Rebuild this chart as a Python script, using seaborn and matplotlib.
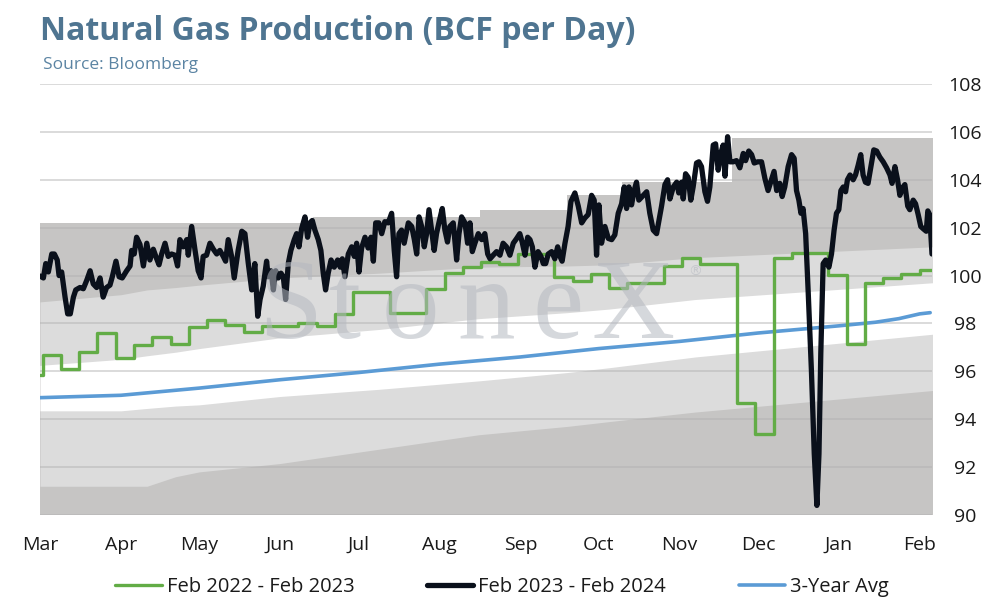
import numpy as np
import pandas as pd
import matplotlib
matplotlib.use('Agg')
import matplotlib.pyplot as plt
import matplotlib.dates as mdates
import seaborn as sns

# ---- data ----
start = pd.Timestamp('2023-03-01')
end = start + pd.Timedelta(days=341.7)

# Feb 2023 - Feb 2024 (days since 1 Mar 2023, BCF/d)
black_days = [0.0, 1.3, 2.2, 3.2, 4.5, 5.5, 6.6, 7.3, 8.3, 9.6, 10.6, 11.6, 12.8, 13.7, 15.3, 16.6,
              17.9, 19.2, 20.4, 21.7, 23.0, 24.2, 25.5, 26.8, 27.7, 29.1, 30.3, 31.5, 33.2, 34.5,
              35.1, 36.1, 37.0, 38.3, 39.6, 40.9, 42.1, 43.4, 44.7, 45.6, 46.6, 47.9, 49.1, 50.4,
              51.7, 52.7, 53.6, 54.9, 56.2, 56.8, 58.1, 59.4, 60.6, 61.7, 62.5, 63.8, 65.1, 66.4,
              67.7, 68.9, 70.2, 71.1, 72.1, 73.4, 74.4, 75.9, 77.3, 78.5, 79.8, 81.1, 82.3, 83.4,
              84.3, 85.5, 86.8, 87.4, 88.5, 89.4, 90.3, 91.3, 92.3, 93.2, 94.1, 95.1, 96.1, 97.4,
              98.3, 99.2, 100.2, 101.5, 102.5, 103.4, 104.3, 105.3, 106.6, 107.6, 108.5, 109.4,
              110.4, 111.5, 112.7, 114.0, 115.0, 115.8, 116.8, 118.1, 119.4, 120.4, 121.3, 122.2,
              123.2, 124.5, 125.7, 126.8, 127.7, 128.6, 129.8, 130.9, 132.1, 133.4, 134.7, 135.7,
              136.6, 137.5, 138.5, 139.5, 141.1, 142.4, 143.4, 144.3, 145.2, 146.2, 147.2, 148.1,
              149.0, 150.0, 151.0, 151.9, 152.8, 154.1, 155.1, 156.1, 157.0, 158.3, 159.6, 160.5,
              161.5, 162.8, 163.8, 164.7, 165.6, 166.6, 167.9, 169.2, 170.4, 171.5, 172.4, 173.6,
              174.9, 176.2, 177.4, 178.7, 180.0, 181.3, 182.6, 183.8, 184.7, 185.8, 186.8, 187.7,
              188.6, 189.6, 190.8, 191.9, 192.8, 193.7, 194.7, 196.0, 197.2, 198.3, 199.2, 200.0,
              201.1, 202.3, 203.4, 204.9, 206.2, 207.5, 208.7, 210.0, 211.3, 212.3, 213.2, 214.1,
              215.1, 216.4, 217.7, 219.0, 220.2, 221.5, 222.8, 223.8, 224.7, 225.6, 226.6, 227.6,
              228.5, 229.4, 231.1, 232.4, 233.6, 234.9, 236.2, 237.1, 238.1, 239.4, 240.4, 241.3,
              242.6, 243.9, 244.7, 245.8, 246.4, 247.3, 248.3, 249.3, 250.2, 251.5, 252.4, 253.4,
              254.7, 255.7, 256.6, 257.9, 258.8, 259.8, 260.8, 261.7, 262.4, 263.4, 264.3, 265.5,
              266.8, 268.1, 269.4, 270.3, 271.5, 272.6, 273.6, 274.9, 276.4, 277.7, 278.9, 280.2,
              281.2, 282.2, 283.4, 284.3, 285.3, 286.6, 287.9, 288.9, 289.8, 290.7, 291.5, 292.3,
              293.3, 294.3, 295.5, 296.6, 297.6, 298.4, 299.1, 300.0, 301.0, 302.2, 303.2, 304.2,
              305.1, 306.0, 306.8, 307.7, 308.6, 309.3, 310.3, 311.5, 312.4, 313.4, 314.4, 315.3,
              316.2, 317.2, 318.3, 319.4, 320.5, 321.7, 323.0, 324.3, 325.6, 326.4, 327.5, 328.5,
              329.4, 330.3, 331.3, 332.4, 333.2, 334.5, 335.4, 336.4, 337.4, 338.4, 339.5, 340.1,
              340.8, 341.7]
black_vals = [99.98, 99.9, 100.5, 100.15, 100.9, 100.9, 100.65, 100.0, 100.15, 99.1, 98.4, 98.4, 99.1, 99.4, 99.5, 99.45,
              99.8, 100.2, 99.65, 99.5, 99.9, 99.1, 99.5, 99.6, 99.95, 100.6, 99.95, 99.9, 100.2, 100.4,
              101.05, 100.9, 101.6, 101.3, 100.4, 101.35, 100.65, 101.1, 100.7, 100.45, 100.9, 101.35, 100.8, 100.9,
              100.85, 100.4, 101.5, 101.2, 101.5, 100.85, 102.05, 101.05, 100.2, 99.9, 100.8, 100.85, 101.35, 101.1,
              100.9, 101.05, 100.8, 100.6, 101.5, 100.8, 99.9, 101.05, 101.85, 101.75, 100.5, 99.4, 100.5, 98.3,
              99.0, 99.55, 100.6, 99.95, 100.2, 99.4, 100.2, 99.9, 100.1, 99.95, 99.0, 100.5, 101.05, 101.5,
              101.75, 101.2, 101.95, 102.45, 101.6, 102.2, 102.3, 101.9, 101.5, 101.05, 100.1, 99.4,
              100.1, 100.65, 100.35, 100.65, 100.35, 100.7, 99.95, 100.9, 101.2, 100.8, 101.35, 100.15,
              101.15, 101.6, 101.15, 101.6, 100.6, 102.2, 102.2, 101.75, 102.25, 102.2, 102.6, 101.05,
              99.95, 101.75, 101.9, 101.35, 102.2, 102.05, 101.5, 100.9, 102.45, 102.05, 101.2, 101.75,
              102.75, 101.9, 101.05, 101.75, 102.2, 102.8, 101.9, 101.4, 102.05, 102.2, 100.65, 101.75,
              102.45, 102.2, 101.35, 102.2, 101.0, 101.35, 101.75, 101.5, 101.75, 100.9, 100.7, 100.85,
              101.0, 100.85, 101.35, 101.2, 100.85, 101.35, 101.55, 101.75, 101.4, 100.85, 101.6, 101.5,
              101.2, 100.35, 101.0, 100.8, 100.5, 100.5, 100.9, 101.0, 100.7, 101.2, 100.8, 100.6,
              101.35, 102.05, 103.1, 103.45, 102.9, 102.2, 102.4, 102.55, 103.35, 103.15, 100.85, 102.95,
              101.35, 102.05, 101.55, 101.5, 101.7, 102.6, 103.0, 103.7, 102.8, 103.7, 102.95, 103.55,
              103.9, 103.15, 103.35, 103.5, 102.6, 101.9, 101.75, 102.3, 102.9, 103.8, 104.0, 103.2,
              103.7, 103.9, 103.45, 103.9, 103.2, 104.25, 104.1, 103.15, 103.7, 104.7, 104.75, 104.55,
              103.5, 103.1, 103.7, 105.45, 105.5, 104.4, 105.1, 105.45, 104.15, 105.8, 104.75, 104.75,
              104.8, 104.5, 105.1, 104.8, 105.2, 105.05, 104.7, 104.75, 104.75, 104.05, 103.55, 104.0,
              104.35, 103.55, 103.85, 103.3, 103.7, 104.55, 105.05, 104.9, 103.55, 103.15, 102.6, 102.8,
              101.75, 99.25, 96.05, 92.55, 90.4, 92.55, 96.75, 100.5, 100.65, 100.35, 100.9, 101.9,
              102.6, 102.75, 103.55, 103.7, 103.5, 104.0, 104.2, 104.0, 104.2, 104.6, 105.05, 104.2,
              103.9, 103.85, 104.55, 105.25, 105.2, 104.95, 104.75, 104.5, 104.2, 103.85, 104.55, 104.0,
              103.35, 103.65, 103.8, 102.9, 102.75, 103.15, 103.0, 102.55, 102.05, 101.95, 101.85, 102.7,
              102.55, 100.9]

# Feb 2022 - Feb 2023, weekly values (first point 1 Mar, then weekly from 2 Mar)
green_vals = [95.85, 96.7, 96.1, 96.8, 97.6, 96.55, 97.1, 97.45, 97.15, 97.85, 98.15, 97.95, 97.65,
              97.9, 97.9, 98.0, 97.9, 98.4, 99.3, 99.3, 98.45, 98.45, 99.45, 100.1, 100.35, 100.55,
              100.5, 100.9, 100.9, 99.95, 99.78, 100.06, 99.46, 99.7, 99.7, 100.4, 100.72, 100.48,
              100.48, 94.68, 93.37, 100.75, 100.95, 100.95, 100.02, 97.13, 99.67, 99.91, 100.05, 100.23]

# 3-year average
avg_dates = ['2023-03-01', '2023-04-01', '2023-05-01', '2023-06-01', '2023-07-01', '2023-08-01',
             '2023-09-01', '2023-10-01', '2023-11-01', '2023-12-01', '2024-01-01', '2024-01-15',
             '2024-01-24', '2024-02-01', '2024-02-05']
avg_vals = [94.9, 95.0, 95.3, 95.65, 95.95, 96.3, 96.6, 96.95, 97.25, 97.6, 97.9, 98.05, 98.2, 98.4, 98.45]

# historical range bands
band_days = [0, 31, 41, 52, 61, 92, 130, 168, 202, 218, 251, 342]
band_min = [91.2, 91.2, 91.2, 91.6, 91.8, 92.15, 92.75, 93.35, 93.7, 93.9, 94.3, 95.2]
band_lo = [94.35, 94.35, 94.45, 94.55, 94.6, 94.95, 95.25, 95.6, 95.95, 96.15, 96.6, 97.55]
band_hi = [96.25, 96.5, 96.65, 96.8, 96.95, 97.4, 97.75, 98.2, 98.45, 98.6, 99.0, 99.7]
band_top = [98.9, 99.2, 99.4, 99.5, 99.6, 99.9, 100.1, 100.35, 100.4, 100.45, 100.75, 101.2]
max_days = [0, 104.5, 168.5, 202, 223, 265, 342]
max_vals = [102.2, 102.45, 102.74, 103.36, 103.92, 105.76, 105.76]

y_ticks = list(range(90, 110, 2))

# ---- frames ----
black_df = pd.DataFrame({'date': start + pd.to_timedelta(black_days, unit='D'), 'value': black_vals})
green_dates = [start] + list(pd.date_range('2023-03-02', periods=len(green_vals) - 1, freq='7D')) + [end]
green_df = pd.DataFrame({'date': green_dates, 'value': green_vals + [green_vals[-1]]})
avg_df = pd.DataFrame({'date': pd.to_datetime(avg_dates), 'value': avg_vals})
band_dates = start + pd.to_timedelta(band_days, unit='D')
max_dates = start + pd.to_timedelta(max_days, unit='D')

# ---- style ----
sns.set_theme(style='white')
plt.rcParams['font.family'] = ['Open Sans', 'DejaVu Sans']

fig = plt.figure(figsize=(9.94, 6.07), dpi=100)
ax = fig.add_axes([40 / 994, 1 - 515 / 607, 892 / 994, 431 / 607])

dark = '#c6c5c4'
light = '#dcdcdc'
ax.fill_between(max_dates, 90, max_vals, step='post', color=dark, lw=0, zorder=0)
ax.fill_between(band_dates, band_min, band_top, color=light, lw=0, zorder=0.1)
ax.fill_between(band_dates, band_lo, band_hi, color='white', lw=0, zorder=0.2)

for t in y_ticks:
    ax.axhline(t, color='#b1b1b1', alpha=0.5, lw=1.3, zorder=0.5)

# watermark
for ch, px in zip('StoneX', [290, 345, 410, 486, 558, 633]):
    fig.text(px / 994, 1 - 338 / 607, ch, family='Liberation Serif', fontsize=83,
             color='#b4b8c0', alpha=0.55, ha='center', va='baseline', zorder=0.6)
fig.text(695 / 994, 1 - 272 / 607, '\u00ae', family='DejaVu Sans', fontsize=10,
         color='#b4b8c0', alpha=0.55, ha='center', va='center')

sns.lineplot(data=green_df, x='date', y='value', ax=ax, color='#62ac46', lw=2.4,
             drawstyle='steps-post', label='Feb 2022 - Feb 2023', zorder=4, sort=False)
sns.lineplot(data=black_df, x='date', y='value', ax=ax, color='#0a101b', lw=3.8,
             label='Feb 2023 - Feb 2024', zorder=5)
sns.lineplot(data=avg_df, x='date', y='value', ax=ax, color='#5b9bd5', lw=2.6,
             label='3-Year Avg', zorder=3)

ax.set_xlim(start, end)
ax.set_ylim(90, 108)
ax.set_yticks(y_ticks)
ax.yaxis.tick_right()
ax.xaxis.set_major_locator(mdates.MonthLocator())
ax.xaxis.set_major_formatter(mdates.DateFormatter('%b'))
ax.tick_params(axis='y', length=0, pad=24, labelsize=14, labelcolor='#1a1a1a')
ax.tick_params(axis='x', length=0, pad=15, labelsize=14, labelcolor='#1a1a1a')
for lab in ax.get_yticklabels():
    lab.set_horizontalalignment('center')
ax.set_xlabel('')
ax.set_ylabel('')
for s in ax.spines.values():
    s.set_visible(False)
ax.set_facecolor('white')

handles, labels = ax.get_legend_handles_labels()
ax.get_legend().remove()
fig.legend(handles, labels, loc='center', bbox_to_anchor=(502 / 994, 1 - 587 / 607), ncol=3,
           frameon=False, fontsize=14.5, handlelength=2.3, handletextpad=0.25, columnspacing=3.6,
           labelcolor='#1a1a1a')

fig.text(40 / 994, 1 - 32 / 607, 'Natural Gas Production (BCF per Day)', fontsize=23,
         fontweight='bold', color='#4f7591', va='center', ha='left')
fig.text(43 / 994, 1 - 65 / 607, 'Source: Bloomberg', fontsize=12.5, color='#5b84a3',
         va='center', ha='left')

fig.savefig('out.png', dpi=100)
